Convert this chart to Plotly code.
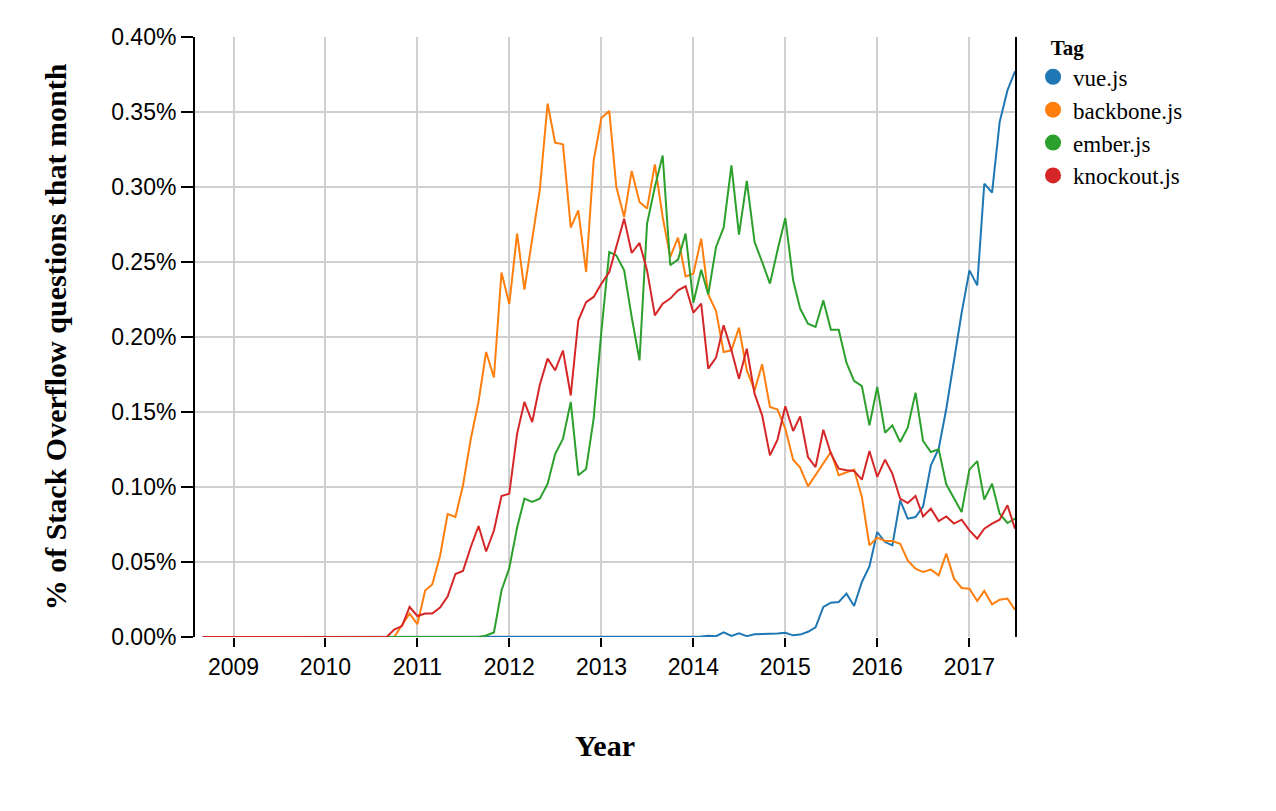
import pandas as pd
import plotly.graph_objects as go

# monthly share of Stack Overflow questions (%), Sep 2008 .. Jul 2017
months = pd.date_range("2008-09-01", periods=107, freq="MS")

tags = ["vue.js", "backbone.js", "ember.js", "knockout.js"]
colors = ["#1f77b4", "#ff7f0e", "#2ca02c", "#d62728"]

vue = [0] * 64 + [
    0.0004, 0.0004, 0.0009, 0.0005, 0.0031, 0.0007, 0.0024, 0.0006,
    0.0018, 0.0018, 0.0022, 0.0024, 0.0028, 0.0011, 0.0016, 0.0035,
    0.0064, 0.020, 0.0229, 0.0233, 0.0289, 0.0207, 0.0367, 0.0471,
    0.070, 0.0633, 0.0611, 0.0911, 0.0789, 0.080, 0.087, 0.1144,
    0.1256, 0.152, 0.186, 0.216, 0.2444, 0.2344, 0.3022, 0.2962,
    0.3433, 0.3644, 0.3771]

backbone = [0] * 26 + [
    0.008, 0.0156, 0.0085, 0.031, 0.035, 0.054, 0.082, 0.080,
    0.101, 0.132, 0.157, 0.190, 0.173, 0.243, 0.222, 0.269,
    0.2316, 0.2667, 0.298, 0.3556, 0.3296, 0.3284, 0.273, 0.2844,
    0.2433, 0.3178, 0.3462, 0.3507, 0.300, 0.280, 0.3107, 0.290,
    0.2856, 0.3151, 0.280, 0.2533, 0.2662, 0.2404, 0.2422, 0.2656,
    0.2284, 0.2173, 0.190, 0.1911, 0.2062, 0.1778, 0.1644, 0.1818,
    0.1533, 0.1516, 0.139, 0.1182, 0.1129, 0.1004, 0.1078, 0.1156,
    0.1233, 0.1078, 0.110, 0.1116, 0.0933, 0.0611, 0.0662, 0.064,
    0.064, 0.0622, 0.0511, 0.0456, 0.0433, 0.0449, 0.0411, 0.0556,
    0.0389, 0.0327, 0.0322, 0.024, 0.0307, 0.0218, 0.0249, 0.0256,
    0.0182]

ember = [0] * 37 + [
    0.001, 0.003, 0.031, 0.046, 0.073, 0.0922, 0.090, 0.0922,
    0.102, 0.122, 0.132, 0.1567, 0.1078, 0.112, 0.1456, 0.2044,
    0.2567, 0.2544, 0.2444, 0.2133, 0.1844, 0.2756, 0.300, 0.321,
    0.2478, 0.2516, 0.2689, 0.2229, 0.2449, 0.2284, 0.260, 0.2729,
    0.3144, 0.2682, 0.304, 0.2633, 0.250, 0.2356, 0.2578, 0.2793,
    0.2378, 0.2189, 0.2089, 0.2067, 0.2244, 0.2049, 0.2049, 0.1827,
    0.1707, 0.1673, 0.1411, 0.1667, 0.1362, 0.1411, 0.130, 0.1396,
    0.1629, 0.1307, 0.1233, 0.1251, 0.1018, 0.0922, 0.0833, 0.1116,
    0.1173, 0.0916, 0.1022, 0.0822, 0.076, 0.0789]

knockout = [0] * 25 + [
    0.005, 0.0073, 0.020, 0.014, 0.0156, 0.0156, 0.0196, 0.027,
    0.042, 0.044, 0.060, 0.074, 0.057, 0.071, 0.094, 0.0956,
    0.1356, 0.1567, 0.1433, 0.168, 0.1856, 0.1778, 0.191, 0.161,
    0.211, 0.2233, 0.2267, 0.2356, 0.2433, 0.2611, 0.2789, 0.256,
    0.2627, 0.2444, 0.2144, 0.2222, 0.2256, 0.2311, 0.2338, 0.2162,
    0.2222, 0.1789, 0.1862, 0.2078, 0.1911, 0.1722, 0.1922, 0.1622,
    0.1478, 0.1211, 0.1316, 0.1538, 0.1373, 0.1471, 0.120, 0.1133,
    0.1382, 0.1222, 0.1122, 0.1111, 0.1107, 0.1049, 0.124, 0.1067,
    0.1182, 0.1089, 0.0922, 0.0893, 0.094, 0.0804, 0.0856, 0.0773,
    0.0804, 0.0756, 0.0782, 0.0711, 0.0656, 0.0722, 0.0756, 0.0782,
    0.0878, 0.0722]

series = [vue, backbone, ember, knockout]

fig = go.Figure()

for name, vals, col in zip(tags, series, colors):
    fig.add_trace(go.Scatter(x=months, y=vals, mode="lines", name=name,
                             line=dict(color=col, width=2),
                             showlegend=False))

# circle symbols for the legend
for name, col in zip(tags, colors):
    fig.add_trace(go.Scatter(x=[None], y=[None], mode="markers", name=name,
                             marker=dict(color=col, size=16, symbol="circle")))

serif = "Liberation Serif, Times New Roman, serif"

fig.update_layout(
    width=1268, height=803,
    margin=dict(l=187, r=261, t=29, b=174, autoexpand=False),
    plot_bgcolor="white",
    paper_bgcolor="white",
    font=dict(family="Liberation Sans, Arial, sans-serif", size=23, color="black"),
    legend=dict(
        title=dict(text="&nbsp;&nbsp;&nbsp;<b>Tag</b>", font=dict(family=serif, size=21)),
        font=dict(family=serif, size=23),
        x=1.022, y=1.015, xanchor="left", yanchor="top",
        itemsizing="trace",
    ),
)

fig.update_xaxes(
    range=["2008-08-01", "2017-07-01"],
    dtick="M12", tick0="2009-01-01", tickformat="%Y",
    showgrid=True, gridcolor="#d0d0d0", gridwidth=1.5,
    showline=False, zeroline=False,
    ticks="outside", ticklen=9, tickwidth=1.5, tickcolor="black",
    tickfont=dict(size=23),
    title=dict(text="<b>Year</b>", font=dict(family=serif, size=30), standoff=56),
)

fig.update_yaxes(
    range=[0, 0.4], dtick=0.05, tickformat=".2f", ticksuffix="%",
    showgrid=True, gridcolor="#d0d0d0", gridwidth=1.5,
    showline=True, linecolor="black", linewidth=2, mirror=True,
    zeroline=False,
    ticks="outside", ticklen=12, tickwidth=1.5, tickcolor="black",
    tickfont=dict(size=23),
    title=dict(text="<b>% of Stack Overflow questions that month</b>",
               font=dict(family=serif, size=30), standoff=36),
)

fig.write_html("out.html")
